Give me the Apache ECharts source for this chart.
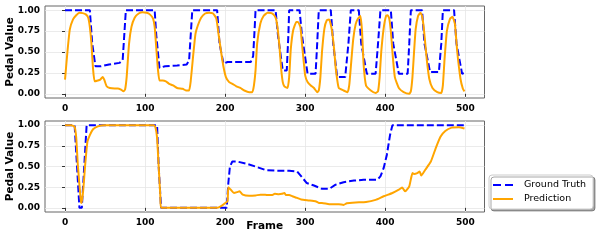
<!DOCTYPE html>
<html><head><meta charset="utf-8">
<script src="https://cdn.jsdelivr.net/npm/echarts@6/dist/echarts.min.js"></script>
<style>html,body{margin:0;padding:0;background:#fff}#c{width:605px;height:243px}</style>
</head><body><div id="c"></div><script>
const xTicks = [0, 100, 200, 300, 400, 500];
const yTicks = [0, 0.25, 0.5, 0.75, 1.0];
const seriesNames = ['Ground Truth', 'Prediction'];

// Top panel — ground truth
const topGtFrames = [0,31,34,38,45,55,68,72,74,76,112,114,118,125,140,152,155,157,159,190,193,198,203,215,232,235,237,238,263,266,272,277,279,280,293,296,303,313,315,317,332,335,340,350,354,357,367,370,377,388,391,394,407,410,417,428,430,432,446,449,456,467,470,472,486,489,496,499];
const topGtValues = [1,1,0.6,0.33,0.33,0.35,0.37,0.4,0.7,1,1,0.7,0.31,0.33,0.34,0.35,0.4,0.7,1,1,0.6,0.36,0.38,0.38,0.38,0.45,0.8,1,1,0.7,0.28,0.28,0.7,1,1,0.7,0.24,0.24,0.6,1,1,0.6,0.2,0.2,0.6,1,1,0.6,0.24,0.24,0.6,1,1,0.6,0.24,0.24,0.6,1,1,0.6,0.26,0.26,0.6,1,1,0.6,0.24,0.25];

// Top panel — prediction
const topPredFrames = [0,3,6,10,14,18,22,26,29,31,33,35,37,41,44,47,49,52,56,62,66,70,73,75,77,80,83,87,92,97,102,106,110,112,114,116,118,122,126,130,135,140,147,151,155,157,160,163,166,170,175,180,185,189,192,195,198,201,205,209,214,219,224,230,234,236,238,240,244,248,253,258,262,264,266,268,270,272,274,278,280,282,285,289,291,294,296,298,300,303,307,311,315,317,319,321,324,327,330,333,336,338,340,342,348,353,355,357,360,363,366,369,371,373,376,382,388,391,393,395,398,401,403,405,407,409,412,417,423,430,432,434,436,438,441,444,446,448,450,452,455,459,465,470,472,474,477,481,484,487,490,494,497,499];
const topPredValues = [0.17,0.5,0.77,0.89,0.94,0.97,0.965,0.95,0.91,0.8,0.6,0.3,0.15,0.16,0.17,0.2,0.17,0.09,0.07,0.065,0.065,0.05,0.03,0.05,0.2,0.6,0.8,0.91,0.96,0.975,0.97,0.95,0.9,0.8,0.55,0.3,0.16,0.16,0.15,0.12,0.1,0.07,0.06,0.04,0.04,0.15,0.45,0.72,0.82,0.91,0.96,0.97,0.96,0.9,0.7,0.5,0.32,0.2,0.14,0.12,0.09,0.07,0.04,0.02,0.02,0.1,0.28,0.6,0.84,0.93,0.97,0.965,0.93,0.88,0.75,0.55,0.3,0.14,0.09,0.07,0.2,0.53,0.76,0.86,0.86,0.8,0.6,0.4,0.22,0.14,0.1,0.07,0.02,0.04,0.2,0.5,0.78,0.88,0.89,0.78,0.55,0.32,0.17,0.07,0.04,0.02,0.1,0.32,0.65,0.83,0.9,0.93,0.75,0.35,0.1,0.04,0.01,0.03,0.2,0.5,0.78,0.93,0.94,0.9,0.75,0.5,0.2,0.07,0.02,0.0,0.03,0.2,0.5,0.77,0.93,0.97,0.93,0.8,0.6,0.4,0.18,0.07,0.02,0.01,0.1,0.4,0.75,0.9,0.92,0.84,0.5,0.18,0.06,0.03];

// Bottom panel — ground truth
const botGtFrames = [0,12,15,18,21,24,27,115,117,120,202,204,206,209,215,228,238,251,263,280,290,296,302,311,321,330,338,348,361,373,390,394,398,402,406,409,499];
const botGtValues = [1,1,0.5,0,0,0.5,1,1,0.5,0,0,0.3,0.5,0.56,0.56,0.53,0.5,0.455,0.45,0.45,0.44,0.37,0.3,0.27,0.23,0.23,0.28,0.31,0.33,0.34,0.34,0.38,0.48,0.64,0.88,1,1];

// Bottom panel — prediction
const botPredFrames = [0,8,12,14,16,18,20,21,23,25,28,31,35,41,49,111,113,115,117,119,120,190,195,199,203,204,207,211,215,218,222,230,238,244,247,253,259,262,267,271,274,276,280,284,290,295,305,313,317,321,330,342,348,352,363,376,388,398,409,417,421,425,430,434,436,440,443,445,450,457,463,469,475,483,492,499];
const botPredValues = [1,1,0.98,0.85,0.52,0.28,0.07,0.06,0.24,0.5,0.8,0.88,0.95,0.985,1,1,0.97,0.85,0.5,0.15,0,0,0.02,0.05,0.08,0.25,0.22,0.18,0.19,0.2,0.16,0.145,0.15,0.16,0.16,0.155,0.155,0.17,0.165,0.17,0.18,0.155,0.155,0.14,0.12,0.1,0.09,0.08,0.06,0.06,0.045,0.045,0.035,0.056,0.065,0.07,0.096,0.14,0.18,0.22,0.245,0.2,0.26,0.42,0.41,0.42,0.44,0.39,0.46,0.56,0.72,0.86,0.93,0.97,0.975,0.96];

const zip = (a, b) => a.map((f, i) => [f, b[i]]);
const FONT = 'DejaVu Sans';
const GRIDC = '#e6e6e6';

function xAxisCfg(gi, withName) {
  return {
    type: 'value', gridIndex: gi, min: -25, max: 524,
    axisLine: { show: false },
    axisTick: { show: true, inside: false, length: 3, lineStyle: { color: '#333' }, customValues: xTicks },
    axisLabel: { customValues: xTicks, margin: 6, color: '#000', fontFamily: FONT, fontWeight: 'bold', fontSize: 9 },
    splitLine: { show: true, lineStyle: { color: GRIDC, width: 0.8 } },
    name: withName ? 'Frame' : '', nameLocation: 'middle', nameGap: 8.5, nameMoveOverlap: false,
    nameTextStyle: { fontFamily: FONT, fontWeight: 'bold', fontSize: 10.5, color: '#000' }
  };
}
function yAxisCfg(gi) {
  return {
    type: 'value', gridIndex: gi, min: -0.05, max: 1.05,
    axisLine: { show: false },
    axisTick: { show: true, inside: false, length: 3, lineStyle: { color: '#333' }, customValues: yTicks },
    axisLabel: { customValues: yTicks, margin: 5, color: '#000', fontFamily: FONT, fontWeight: 'bold', fontSize: 9,
      formatter: v => v.toFixed(2) },
    splitLine: { show: true, lineStyle: { color: GRIDC, width: 0.8 } },
    name: 'Pedal Value', nameLocation: 'middle', nameGap: 29, nameMoveOverlap: false,
    nameTextStyle: { fontFamily: FONT, fontWeight: 'bold', fontSize: 10.5, color: '#000' }
  };
}
function gtSeries(xi, data) {
  return { name: seriesNames[0], type: 'line', xAxisIndex: xi, yAxisIndex: xi, data: data,
    symbol: 'none', showSymbol: false, smooth: false, z: 2,
    lineStyle: { color: '#0000ff', width: 2, type: [7, 3] }, itemStyle: { color: '#0000ff' } };
}
function predSeries(xi, data) {
  return { name: seriesNames[1], type: 'line', xAxisIndex: xi, yAxisIndex: xi, data: data,
    symbol: 'none', showSymbol: false, smooth: 0.15, z: 3,
    lineStyle: { color: '#ffa500', width: 2 }, itemStyle: { color: '#ffa500' } };
}

const chart = echarts.init(document.getElementById('c'), null, { renderer: 'canvas' });
chart.setOption({
  animation: false,
  backgroundColor: '#fff',
  grid: [
    { left: 45, right: 120.5, top: 6, height: 92, show: true, borderColor: '#666', borderWidth: 1,
      backgroundColor: 'transparent', containLabel: false, outerBoundsMode: 'none' },
    { left: 45, right: 120.5, top: 121, height: 91, show: true, borderColor: '#666', borderWidth: 1,
      backgroundColor: 'transparent', containLabel: false, outerBoundsMode: 'none' }
  ],
  xAxis: [xAxisCfg(0, false), xAxisCfg(1, true)],
  yAxis: [yAxisCfg(0), yAxisCfg(1)],
  legend: {
    data: [
      { name: seriesNames[0], icon: 'path://M0,0h8v2h-8z M12,0h8v2h-8z', itemStyle: { color: '#0000ff' } },
      { name: seriesNames[1], icon: 'path://M0,0h20v2h-20z', itemStyle: { color: '#ffa500' } }
    ],
    orient: 'vertical', left: 489, top: 175,
    itemWidth: 20, itemHeight: 2, itemGap: 4, padding: [5, 7, 5, 4],
    backgroundColor: '#fff', borderColor: '#cccccc', borderWidth: 1, borderRadius: 3,
    shadowColor: 'rgba(0,0,0,0.35)', shadowBlur: 0, shadowOffsetX: 2, shadowOffsetY: 2,
    textStyle: { fontFamily: FONT, fontSize: 9.5, color: '#000', padding: [0, 0, 0, 6] }
  },
  series: [
    gtSeries(0, zip(topGtFrames, topGtValues)),
    predSeries(0, zip(topPredFrames, topPredValues)),
    gtSeries(1, zip(botGtFrames, botGtValues)),
    predSeries(1, zip(botPredFrames, botPredValues))
  ]
});
</script></body></html>
